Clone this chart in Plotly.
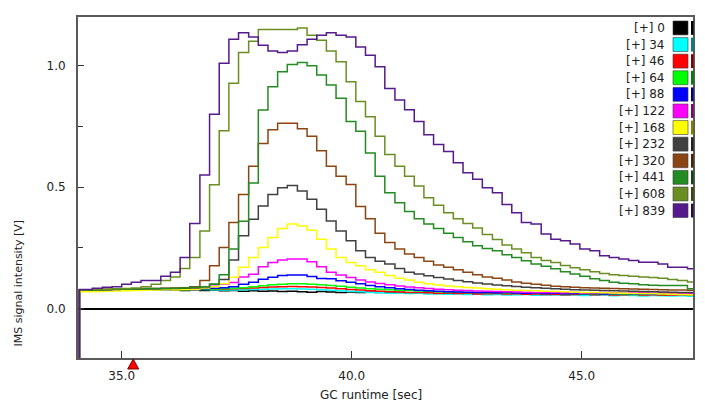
import plotly.graph_objects as go

# ---------------- data ----------------
times = [33.95, 34.08, 34.36, 34.58, 34.79, 35.00, 35.21, 35.42, 35.64, 35.85, 36.06,
         36.27, 36.48, 36.70, 36.91, 37.12, 37.33, 37.54, 37.76, 37.97, 38.18,
         38.39, 38.60, 38.82, 39.03, 39.24, 39.45, 39.66, 39.88, 40.09, 40.30,
         40.51, 40.72, 40.94, 41.15, 41.36, 41.57, 41.78, 42.00, 42.21, 42.42,
         42.63, 42.84, 43.06, 43.27, 43.48, 43.69, 43.90, 44.12, 44.33, 44.54,
         44.75, 44.96, 45.18, 45.39, 45.60, 45.81, 46.02, 46.24, 46.45, 46.66,
         46.87, 47.08, 47.30, 47.51]

concentrations = [0, 34, 46, 64, 88, 122, 168, 232, 320, 441, 608, 839]
colors = ["#000000", "#00FFFF", "#FF0000", "#00FF00", "#0000FF", "#FF00FF",
          "#FFFF00", "#404040", "#8B4513", "#228B22", "#6B8E23", "#551A8B"]
edge_colors = ["#000000", "#008080", "#800000", "#008000", "#000080", "#800080",
               "#808000", "#202020", "#452209", "#114511", "#354711", "#2a0d45"]

s0 = [-0.32,
      0.075, 0.076, 0.077, 0.077, 0.078, 0.078, 0.079, 0.079, 0.080, 0.078, 0.075, 0.078,
      0.075, 0.077, 0.074, 0.075, 0.072, 0.074, 0.072, 0.073, 0.071,
      0.072, 0.070, 0.068, 0.071, 0.069, 0.067, 0.069, 0.066, 0.068, 0.066,
      0.064, 0.066, 0.065, 0.063, 0.066, 0.062, 0.064, 0.063, 0.061, 0.064,
      0.062, 0.060, 0.063, 0.061, 0.059, 0.062, 0.060, 0.058, 0.061, 0.059,
      0.062, 0.058, 0.060, 0.063, 0.059, 0.061, 0.058, 0.060, 0.062, 0.059, 0.061, 0.060, 0.060]
s34 = [-0.32,
       0.074, 0.075, 0.076, 0.077, 0.077, 0.078, 0.078, 0.079, 0.079, 0.080, 0.079, 0.080,
       0.079, 0.078, 0.077, 0.077, 0.078, 0.079, 0.080, 0.081, 0.082,
       0.082, 0.081, 0.080, 0.078, 0.076, 0.074, 0.072, 0.070, 0.066, 0.065,
       0.063, 0.064, 0.062, 0.063, 0.060, 0.061, 0.059, 0.060, 0.058, 0.059,
       0.057, 0.058, 0.056, 0.057, 0.058, 0.055, 0.056, 0.057, 0.055, 0.056,
       0.054, 0.055, 0.056, 0.053, 0.055, 0.054, 0.052, 0.054, 0.053, 0.052, 0.053, 0.051, 0.051]
s46 = [-0.32,
       0.076, 0.077, 0.078, 0.079, 0.078, 0.080, 0.081, 0.080, 0.081, 0.080, 0.081, 0.080,
       0.080, 0.081, 0.080, 0.082, 0.083, 0.085, 0.087, 0.089, 0.090,
       0.091, 0.090, 0.089, 0.087, 0.085, 0.082, 0.079, 0.077, 0.074, 0.072,
       0.070, 0.069, 0.067, 0.066, 0.065, 0.063, 0.064, 0.062, 0.063, 0.060,
       0.061, 0.062, 0.060, 0.061, 0.059, 0.060, 0.058, 0.059, 0.057, 0.058,
       0.059, 0.057, 0.058, 0.056, 0.057, 0.058, 0.056, 0.057, 0.055, 0.056, 0.057, 0.056, 0.056]
s64 = [-0.32,
       0.075, 0.076, 0.077, 0.078, 0.079, 0.079, 0.080, 0.080, 0.081, 0.080, 0.079, 0.080,
       0.080, 0.081, 0.082, 0.084, 0.086, 0.090, 0.094, 0.098, 0.100,
       0.102, 0.102, 0.100, 0.098, 0.095, 0.092, 0.088, 0.085, 0.082, 0.080,
       0.078, 0.076, 0.075, 0.073, 0.072, 0.070, 0.069, 0.068, 0.067, 0.066,
       0.065, 0.066, 0.064, 0.065, 0.063, 0.064, 0.062, 0.063, 0.061, 0.062,
       0.060, 0.061, 0.060, 0.059, 0.060, 0.058, 0.059, 0.060, 0.058, 0.059, 0.060, 0.058, 0.058]
s88 = [-0.32,
       0.073, 0.074, 0.075, 0.076, 0.077, 0.078, 0.077, 0.079, 0.078, 0.080, 0.081, 0.080,
       0.082, 0.084, 0.086, 0.090, 0.100, 0.109, 0.121, 0.129, 0.136,
       0.139, 0.139, 0.132, 0.124, 0.123, 0.115, 0.109, 0.102, 0.095, 0.090,
       0.086, 0.082, 0.079, 0.076, 0.074, 0.072, 0.070, 0.069, 0.068, 0.066,
       0.067, 0.065, 0.066, 0.064, 0.063, 0.064, 0.062, 0.063, 0.061, 0.062,
       0.061, 0.062, 0.060, 0.061, 0.062, 0.060, 0.061, 0.059, 0.060, 0.061, 0.059, 0.060, 0.060]
s122 = [-0.32,
        0.076, 0.077, 0.078, 0.079, 0.079, 0.080, 0.081, 0.081, 0.082, 0.082, 0.083, 0.084,
        0.087, 0.092, 0.100, 0.108, 0.130, 0.142, 0.172, 0.190, 0.200,
        0.204, 0.204, 0.193, 0.172, 0.150, 0.138, 0.128, 0.118, 0.110, 0.104,
        0.098, 0.093, 0.089, 0.086, 0.083, 0.080, 0.078, 0.076, 0.075, 0.073,
        0.072, 0.071, 0.070, 0.069, 0.068, 0.067, 0.066, 0.067, 0.065, 0.066,
        0.064, 0.065, 0.066, 0.064, 0.063, 0.064, 0.065, 0.063, 0.064, 0.062, 0.063, 0.062, 0.062]
s168 = [-0.32,
        0.070, 0.071, 0.072, 0.073, 0.074, 0.075, 0.076, 0.077, 0.078, 0.078, 0.079, 0.080,
        0.085, 0.090, 0.102, 0.129, 0.170, 0.211, 0.252, 0.293, 0.330,
        0.348, 0.340, 0.323, 0.286, 0.245, 0.211, 0.190, 0.177, 0.160, 0.150,
        0.136, 0.125, 0.118, 0.109, 0.102, 0.097, 0.093, 0.090, 0.087, 0.085,
        0.082, 0.080, 0.078, 0.076, 0.075, 0.074, 0.072, 0.071, 0.070, 0.068,
        0.067, 0.066, 0.065, 0.064, 0.063, 0.062, 0.062, 0.061, 0.060, 0.059, 0.058, 0.057, 0.057]
s232 = [-0.32,
        0.077, 0.078, 0.079, 0.080, 0.081, 0.081, 0.082, 0.082, 0.083, 0.083, 0.084, 0.086,
        0.090, 0.100, 0.120, 0.200, 0.300, 0.368, 0.422, 0.470, 0.497,
        0.507, 0.484, 0.450, 0.409, 0.361, 0.320, 0.279, 0.238, 0.211, 0.195,
        0.184, 0.165, 0.150, 0.143, 0.135, 0.128, 0.122, 0.116, 0.111, 0.106,
        0.101, 0.097, 0.094, 0.091, 0.088, 0.086, 0.084, 0.082, 0.080, 0.078,
        0.077, 0.076, 0.075, 0.074, 0.073, 0.072, 0.071, 0.070, 0.069, 0.068, 0.067, 0.066, 0.066]
s320 = [-0.32,
        0.077, 0.078, 0.080, 0.080, 0.081, 0.082, 0.083, 0.083, 0.084, 0.085, 0.086, 0.090,
        0.116, 0.177, 0.252, 0.354, 0.470, 0.586, 0.680, 0.736, 0.763,
        0.763, 0.740, 0.709, 0.650, 0.586, 0.545, 0.511, 0.420, 0.370, 0.310,
        0.272, 0.245, 0.225, 0.211, 0.195, 0.180, 0.170, 0.160, 0.150, 0.140,
        0.130, 0.125, 0.118, 0.110, 0.105, 0.100, 0.096, 0.092, 0.090, 0.088,
        0.086, 0.085, 0.084, 0.083, 0.082, 0.081, 0.080, 0.079, 0.078, 0.077, 0.077, 0.076, 0.076]
s441 = [-0.32,
        0.076, 0.077, 0.078, 0.080, 0.080, 0.081, 0.082, 0.083, 0.083, 0.084, 0.085, 0.087,
        0.090, 0.100, 0.140, 0.245, 0.360, 0.517, 0.817, 0.913, 0.975,
        1.005, 1.013, 0.999, 0.961, 0.920, 0.866, 0.770, 0.730, 0.640, 0.545,
        0.477, 0.436, 0.400, 0.370, 0.348, 0.330, 0.310, 0.293, 0.275, 0.259,
        0.248, 0.238, 0.222, 0.211, 0.197, 0.184, 0.174, 0.164, 0.152, 0.143,
        0.133, 0.123, 0.116, 0.109, 0.105, 0.102, 0.098, 0.096, 0.095, 0.095, 0.095, 0.082, 0.082]
s608 = [-0.32,
        0.078, 0.079, 0.080, 0.082, 0.083, 0.085, 0.090, 0.100, 0.116, 0.130, 0.165, 0.211,
        0.320, 0.510, 0.732, 0.927, 1.054, 1.100, 1.149, 1.149, 1.149,
        1.149, 1.155, 1.125, 1.104, 1.060, 1.016, 0.934, 0.852, 0.790, 0.709,
        0.634, 0.586, 0.545, 0.505, 0.456, 0.425, 0.395, 0.370, 0.350, 0.332,
        0.305, 0.285, 0.262, 0.245, 0.230, 0.210, 0.198, 0.190, 0.178, 0.168,
        0.160, 0.152, 0.145, 0.140, 0.136, 0.133, 0.130, 0.128, 0.125, 0.120, 0.116, 0.110, 0.110]
s839 = [-0.32,
        0.079, 0.084, 0.088, 0.090, 0.100, 0.109, 0.116, 0.116, 0.133, 0.150, 0.210, 0.350,
        0.550, 0.800, 1.010, 1.108, 1.135, 1.118, 1.084, 1.060, 1.054,
        1.060, 1.086, 1.108, 1.125, 1.135, 1.125, 1.118, 1.077, 1.043, 0.995,
        0.906, 0.859, 0.818, 0.770, 0.716, 0.675, 0.647, 0.600, 0.559, 0.532,
        0.497, 0.477, 0.429, 0.395, 0.354, 0.348, 0.307, 0.286, 0.279, 0.266,
        0.245, 0.238, 0.218, 0.211, 0.204, 0.198, 0.191, 0.191, 0.184, 0.170, 0.170, 0.164, 0.164]

series = [s0, s34, s46, s64, s88, s122, s168, s232, s320, s441, s608, s839]

marker_time = [35.25]          # red triangle marker on the time axis

X_RANGE = [34.05, 47.42]
Y_RANGE = [-0.203, 1.2]

# ---------------- figure ----------------
PAGE = 8                         # default body margin of the html page
WIN_W, WIN_H = 705, 403
W, H = WIN_W - PAGE, WIN_H - PAGE
# plot area in window pixels: x 78..693, y 15..358
PL, PR, PT, PB = 78, 693, 15, 358
ML, MT = PL - PAGE, PT - PAGE
MR, MB = W - (PR - PAGE), H - (PB - PAGE)
PW, PH = PR - PL, PB - PT
FONT = "DejaVu Sans"

fig = go.Figure()
for name, vals, col in zip(concentrations, series, colors):
    assert len(vals) == len(times), (name, len(vals))
    fig.add_trace(go.Scatter(x=times, y=vals, mode="lines", name=f"[+] {name}",
                             line=dict(color=col, width=1.5, shape="hv"),
                             showlegend=False, hoverinfo="skip"))


def px2paper_x(px):
    return (px - PL) / PW


def px2paper_y(py):
    return (PB - py) / PH


annotations = []
shapes = []

# red triangle marker(s) just below the time axis (pixel-sized, anchored at data x)
for mt in marker_time:
    shapes.append(dict(type="path", xref="x", yref="paper",
                       xsizemode="pixel", ysizemode="pixel",
                       xanchor=mt, yanchor=0,
                       path="M -5.5,-11 L 5.5,-11 L 0,-1 Z",
                       fillcolor="#FF0000", line=dict(color="#7a0000", width=1),
                       layer="above"))

row0, drow = 26.0, 16.7
for k, (name, col, ecol) in enumerate(zip(concentrations, colors, edge_colors)):
    yc = row0 + drow * k
    annotations.append(dict(text=f"[+] {name}", xref="paper", yref="paper",
                            x=px2paper_x(667), y=px2paper_y(yc), xanchor="right",
                            yanchor="middle", showarrow=False,
                            font=dict(family=FONT, size=12, color="#222222")))
    shapes.append(dict(type="rect", xref="paper", yref="paper",
                       x0=px2paper_x(673), x1=px2paper_x(688),
                       y0=px2paper_y(yc + 7), y1=px2paper_y(yc - 7),
                       fillcolor=col, line=dict(color="rgba(60,60,60,0.6)", width=1)))
    shapes.append(dict(type="rect", xref="paper", yref="paper",
                       x0=px2paper_x(691), x1=px2paper_x(693.5),
                       y0=px2paper_y(yc + 7), y1=px2paper_y(yc - 7),
                       fillcolor=ecol, line=dict(width=0)))

annotations.append(dict(text="GC runtime [sec]", xref="paper", yref="paper",
                        x=px2paper_x(371), y=px2paper_y(395), xanchor="center",
                        yanchor="middle", showarrow=False,
                        font=dict(family=FONT, size=12, color="#222222")))
annotations.append(dict(text="IMS signal intensity [V]", xref="paper", yref="paper",
                        x=px2paper_x(18), y=px2paper_y(283), xanchor="center",
                        yanchor="middle", textangle=-90, showarrow=False,
                        font=dict(family=FONT, size=11, color="#222222")))

fig.update_layout(
    width=W, height=H,
    margin=dict(l=ML, r=MR, t=MT, b=MB, pad=0),
    paper_bgcolor="white", plot_bgcolor="white",
    font=dict(family=FONT, size=12, color="#222222"),
    annotations=annotations, shapes=shapes,
    showlegend=False,
)
fig.update_xaxes(range=X_RANGE, showgrid=False, zeroline=False,
                 showline=True, linecolor="#5a5a5a", linewidth=2, mirror=True,
                 ticks="inside", ticklen=7, tickcolor="#333333", tickwidth=1,
                 tickvals=[35, 40, 45], tickformat=".1f",
                 ticklabelstandoff=6,
                 tickfont=dict(family=FONT, size=12, color="#222222"))
fig.update_yaxes(range=Y_RANGE, showgrid=False, zeroline=True,
                 zerolinecolor="#000000", zerolinewidth=1.5,
                 showline=True, linecolor="#5a5a5a", linewidth=2, mirror=True,
                 ticks="inside", ticklen=6, tickcolor="#333333", tickwidth=1,
                 tickvals=[0, 0.5, 1.0], tickformat=".1f",
                 minor=dict(tickvals=[0.25, 0.75], ticks="inside", ticklen=5,
                            tickcolor="#333333", tickwidth=1),
                 ticklabelstandoff=8,
                 tickfont=dict(family=FONT, size=12, color="#222222"))

fig.write_html("out.html")
